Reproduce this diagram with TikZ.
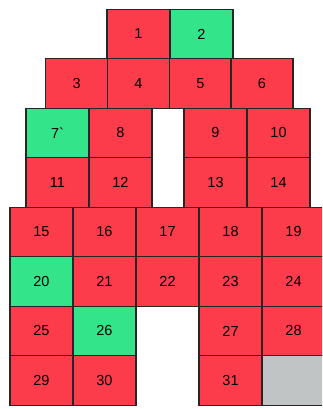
\documentclass[tikz,border=0pt]{standalone}
\usepackage{fontspec}
\setmainfont{Liberation Sans}
\usetikzlibrary{positioning}
\definecolor{seatred}{RGB}{252,60,74}
\definecolor{seatgreen}{RGB}{52,228,138}
\definecolor{seatgrey}{RGB}{193,196,197}

\begin{document}
\begin{tikzpicture}[
    x=1pt,
    y=-1pt,
    font=\fontsize{14.5}{17}\selectfont,
    seat/.style={draw=black!85,line width=1.2pt,minimum width=63pt,minimum height=49.5pt,inner sep=0pt},
    redseat/.style={seat,fill=seatred},
    greenseat/.style={seat,fill=seatgreen},
    greyseat/.style={seat,fill=seatgrey},
    narrowseat/.style={minimum width=62pt}
  ]
    \useasboundingbox (0,0) rectangle (322,409);
    \clip (0,0) rectangle (322,409);

    % top two rows
    \node[redseat] (s1) at (138.5,34) {1};
    \node[greenseat] (s2) at (201.5,34) {2};
    \foreach \lab/\x in {3/76.7,4/138.5,5/200.3,6/262} {
      \node[redseat,narrowseat] (s\lab) at (\x,83.5) {\lab};
    }

    % rows beside the gap
    \node[greenseat] (s7) at (57.5,133) {7\textasciigrave};
    \foreach \lab/\x in {8/120.5,9/215.5,10/278.5} {
      \node[redseat] (s\lab) at (\x,133) {\lab};
    }
    \foreach \lab/\x in {11/57.5,12/120.5,13/215.5,14/278.5} {
      \node[redseat] (s\lab) at (\x,182.5) {\lab};
    }

    % lower block
    \foreach \lab/\x/\y/\kind in {15/41.5/232/redseat,16/104.5/232/redseat,17/167.5/232/redseat,
        18/230.5/232/redseat,19/293.5/232/redseat,
        20/41.5/281.5/greenseat,21/104.5/281.5/redseat,22/167.5/281.5/redseat,
        23/230.5/281.5/redseat,24/293.5/281.5/redseat,
        25/41.5/331/redseat,26/104.5/331/greenseat,27/230.5/331/redseat,28/293.5/331/redseat,
        29/41.5/380.5/redseat,30/104.5/380.5/redseat,31/230.5/380.5/redseat} {
      \node[\kind] (s\lab) at (\x,\y) {\lab};
    }
    \node[greyseat] (s32) at (293.5,380.5) {};
\end{tikzpicture}
\end{document}
